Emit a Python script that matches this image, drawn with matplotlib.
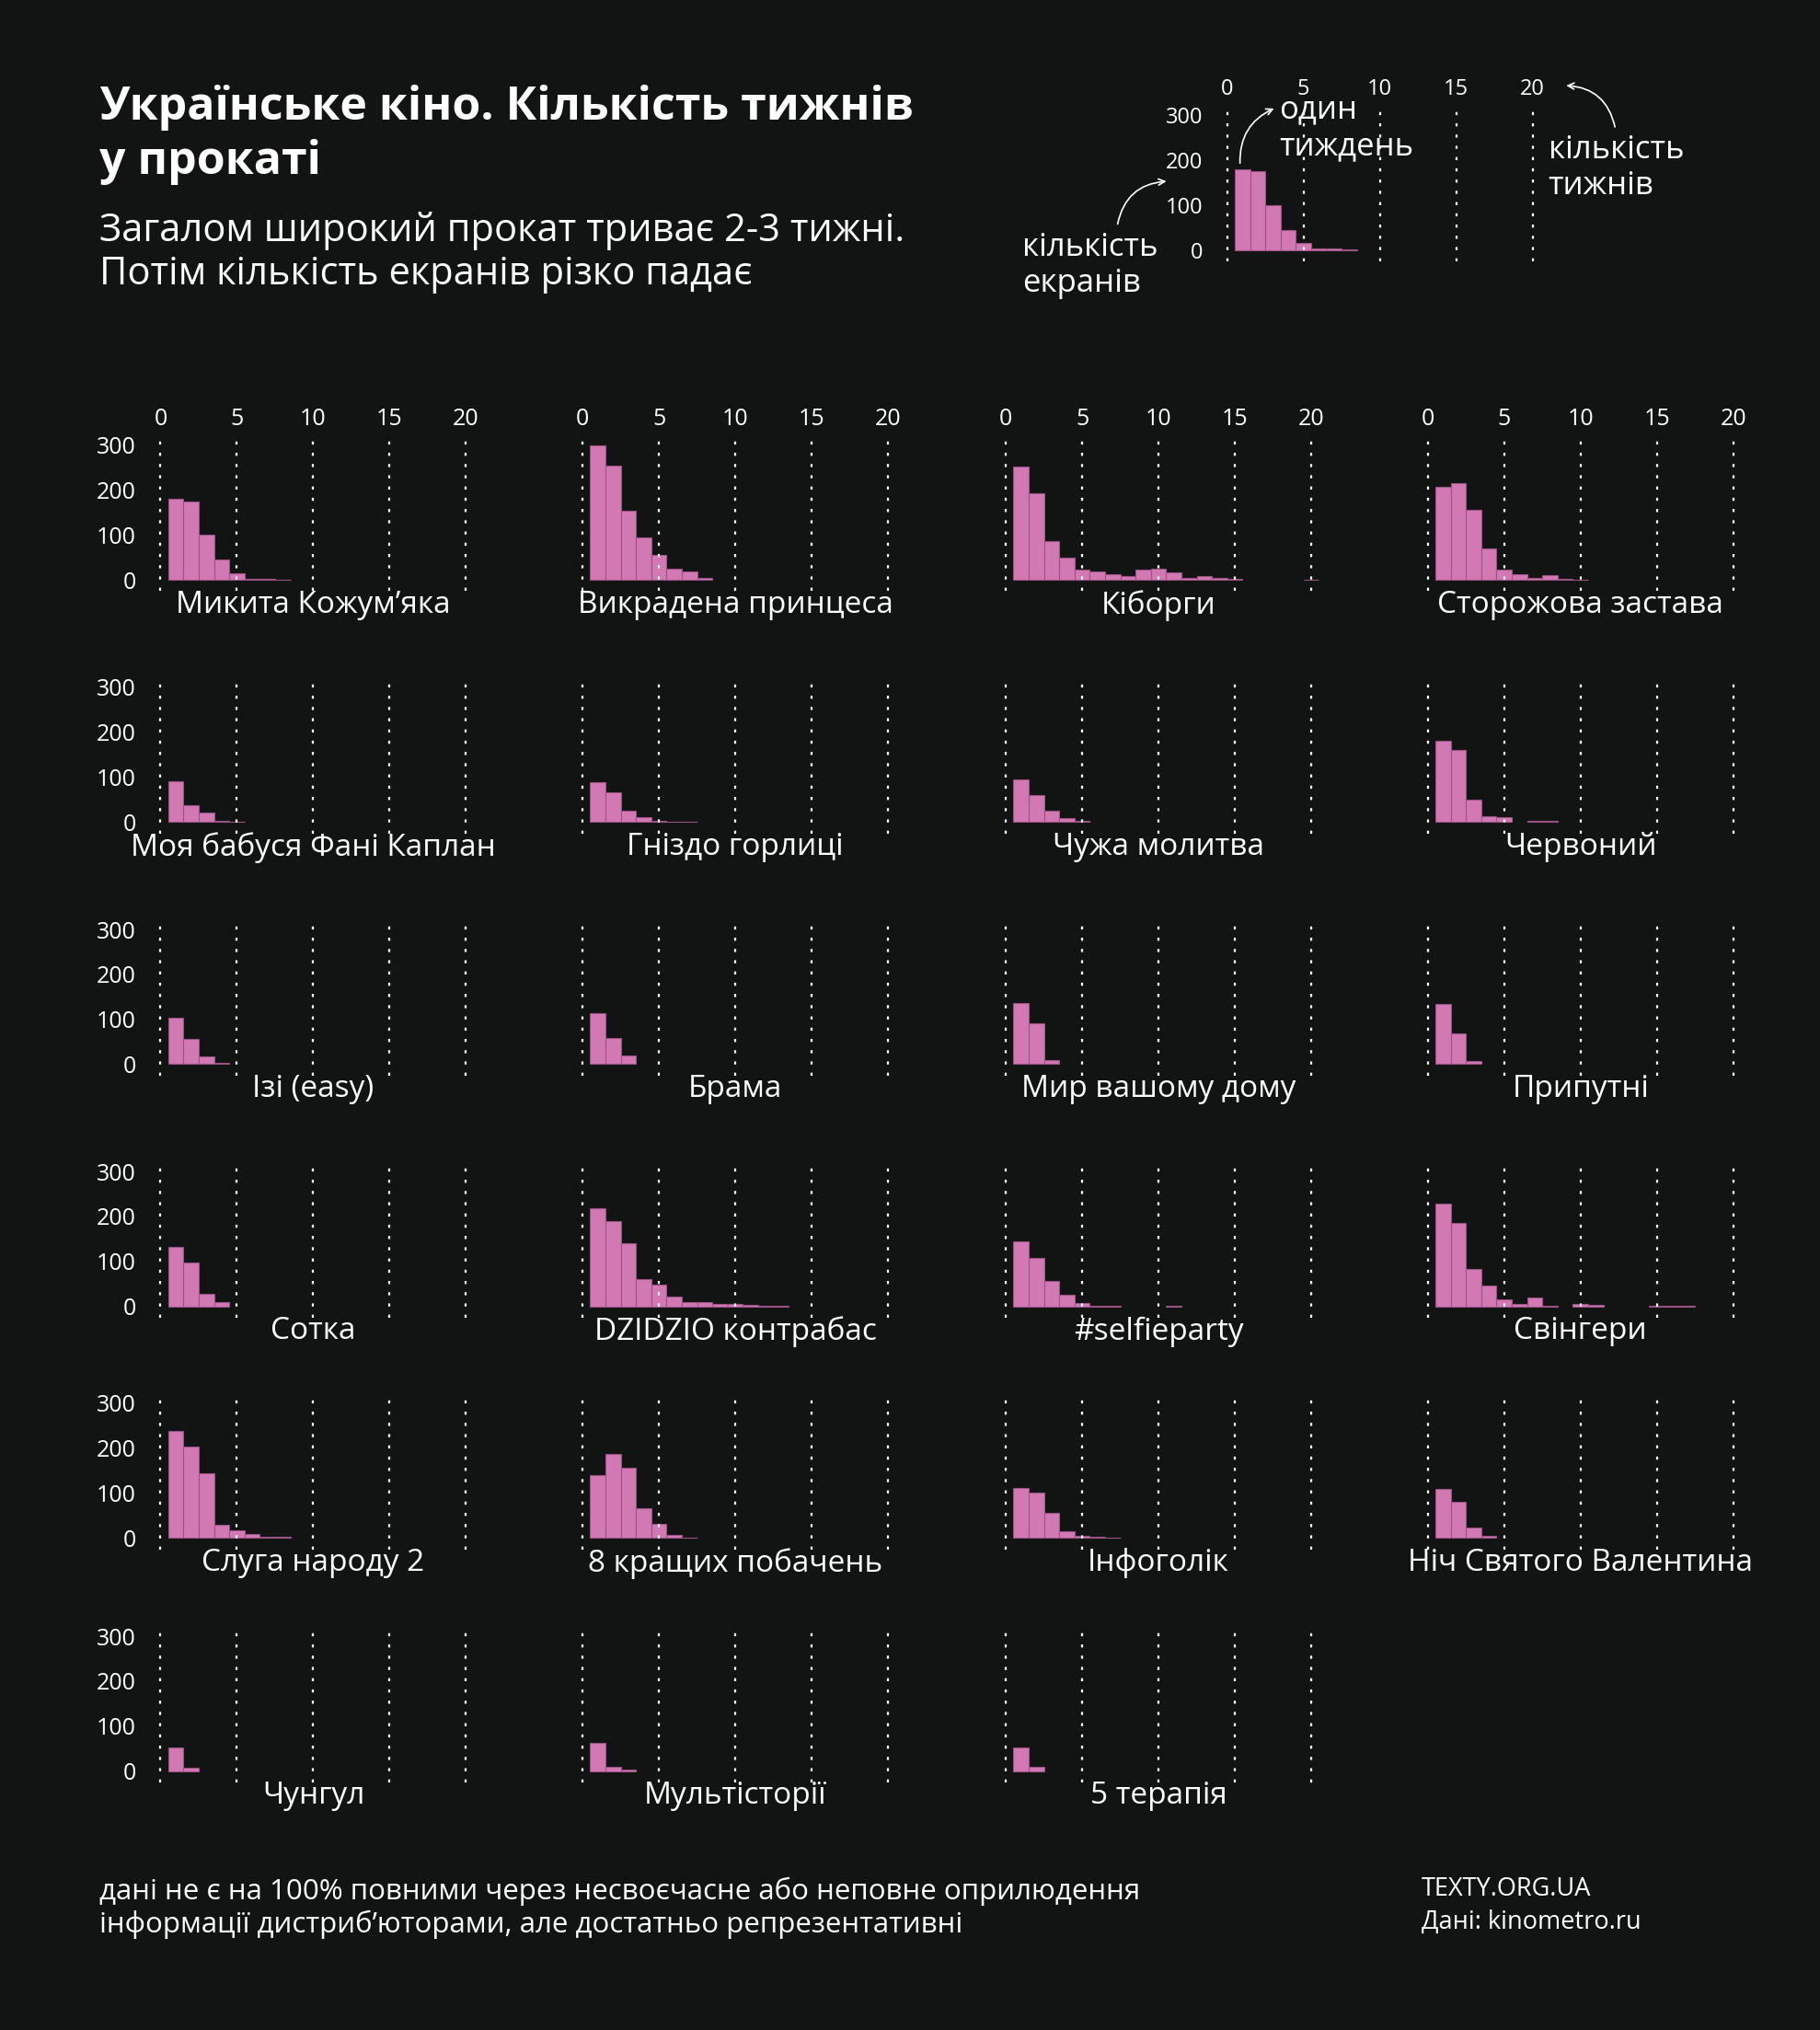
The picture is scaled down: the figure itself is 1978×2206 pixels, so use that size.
import numpy as np
import matplotlib.pyplot as plt

plt.rcParams['font.family'] = ['Open Sans', 'DejaVu Sans']

BG = '#111412'
PINK = '#d279b4'
EDGE = '#9a5284'

films = ['Микита Кожум’яка', 'Викрадена принцеса', 'Кіборги', 'Сторожова застава',
         'Моя бабуся Фані Каплан', 'Гніздо горлиці', 'Чужа молитва', 'Червоний',
         'Ізі (easy)', 'Брама', 'Мир вашому дому', 'Припутні',
         'Сотка', 'DZIDZIO контрабас', '#selfieparty', 'Свінгери',
         'Слуга народу 2', '8 кращих побачень', 'Інфоголік', 'Ніч Святого Валентина',
         'Чунгул', 'Мультісторії', '5 терапія']

# screens per week (week 1, 2, ...)
screens = [
    [180, 175, 100, 45, 15, 3, 3, 1],
    [300, 255, 155, 95, 55, 25, 18, 4],
    [253, 193, 87, 50, 23, 20, 12, 8, 23, 25, 17, 5, 8, 5, 3, 0, 0, 0, 0, 1],
    [208, 215, 157, 71, 24, 12, 5, 10, 3, 1],
    [90, 38, 21, 2, 1],
    [89, 67, 26, 11, 3, 1, 1],
    [96, 60, 25, 9, 2],
    [181, 161, 49, 13, 12, 0, 2, 2],
    [104, 57, 18, 2],
    [113, 59, 19],
    [136, 91, 10],
    [134, 68, 8],
    [133, 97, 28, 10],
    [219, 190, 141, 61, 48, 21, 10, 9, 6, 6, 3, 2, 1],
    [144, 108, 56, 25, 7, 2, 1, 0, 0, 0, 1],
    [228, 186, 84, 47, 16, 5, 19, 1, 0, 6, 3, 0, 0, 0, 1, 1, 1],
    [238, 204, 144, 30, 17, 10, 2, 2],
    [141, 188, 156, 67, 31, 7, 1],
    [111, 101, 56, 15, 5, 3, 1],
    [109, 80, 23, 5],
    [52, 8],
    [63, 10, 4],
    [52, 10],
]
legend_screens = [180, 175, 100, 45, 15, 3, 3, 1]

xticks = [0, 5, 10, 15, 20]
yticks = [0, 100, 200, 300]

W, H = 1406.0, 1568.0  # layout coordinates of the reference
fig = plt.figure(figsize=(19.78, 22.06), dpi=100, facecolor=BG)

XU, YU = 11.8, 0.347   # px per week, px per screen
XL, XR, YB, YT = -0.6, 20.6, -25, 315


def make_axes(x0, y0, top_labels, left_labels, fs=18):
    left = x0 + XL * XU
    width = (XR - XL) * XU
    bottom = y0 - YB * YU
    height = (YT - YB) * YU
    ax = fig.add_axes([left / W, 1 - bottom / H, width / W, height / H])
    ax.set_facecolor('none')
    ax.set_xlim(XL, XR)
    ax.set_ylim(YB, YT)
    for s in ax.spines.values():
        s.set_visible(False)
    for t in xticks:
        ax.plot([t, t], [YB, YT], ls=(0, (1.5, 4)), color='white', lw=1.6)
    ax.set_xticks(xticks)
    ax.set_yticks(yticks)
    ax.tick_params(length=0, colors='white', labelsize=fs,
                   top=False, bottom=False, labeltop=top_labels, labelbottom=False,
                   labelleft=left_labels, pad=12)
    ax.xaxis.set_tick_params(pad=6)
    return ax


def draw(ax, vals):
    vals = np.array(vals)
    weeks = np.arange(1, len(vals) + 1)
    keep = vals > 0
    ax.bar(weeks[keep], vals[keep], width=1.0, color=PINK, edgecolor=EDGE, linewidth=0.8)


col_x = [124, 450, 777, 1103]
row_y = [448, 635, 822, 1009, 1188, 1368]

for i, (name, vals) in enumerate(zip(films, screens)):
    r, c = divmod(i, 4)
    ax = make_axes(col_x[c], row_y[r], r == 0, c == 0)
    draw(ax, vals)
    ax.text(10, -22, name, ha='center', va='top', color='white', fontsize=24)

# legend chart
lax = make_axes(948, 193, True, True, fs=17)
draw(lax, legend_screens)

fig.text(77 / W, 1 - 104 / H, 'Українське кіно. Кількість тижнів\nу прокаті', color='white',
         fontsize=36, fontweight='bold', va='center', ha='left', linespacing=1.25)
fig.text(77 / W, 1 - 195 / H, 'Загалом широкий прокат триває 2-3 тижні.\nПотім кількість екранів різко падає',
         color='white', fontsize=30, va='center', ha='left', linespacing=1.15)

fig.text(790 / W, 1 - 205 / H, 'кількість\nекранів', color='white', fontsize=25,
         va='center', ha='left', linespacing=1.2)
fig.text(988 / W, 1 - 99 / H, 'один\nтиждень', color='white', fontsize=25,
         va='center', ha='left', linespacing=1.2)
fig.text(1196 / W, 1 - 130 / H, 'кількість\nтижнів', color='white', fontsize=25,
         va='center', ha='left', linespacing=1.2)

arrow = dict(arrowstyle='->', color='white', lw=1.2)
fig.add_artist(plt.matplotlib.patches.FancyArrowPatch(
    (863 / W, 1 - 175 / H), (903 / W, 1 - 140 / H), transform=fig.transFigure,
    connectionstyle='arc3,rad=-0.4', **arrow, mutation_scale=12))
fig.add_artist(plt.matplotlib.patches.FancyArrowPatch(
    (958 / W, 1 - 128 / H), (986 / W, 1 - 83 / H), transform=fig.transFigure,
    connectionstyle='arc3,rad=-0.35', **arrow, mutation_scale=12))
fig.add_artist(plt.matplotlib.patches.FancyArrowPatch(
    (1248 / W, 1 - 100 / H), (1208 / W, 1 - 66 / H), transform=fig.transFigure,
    connectionstyle='arc3,rad=0.4', **arrow, mutation_scale=12))

fig.text(77 / W, 1 - 1474 / H, 'дані не є на 100% повними через несвоєчасне або неповне оприлюдення\n'
         'інформації дистриб’юторами, але достатньо репрезентативні',
         color='white', fontsize=22.5, va='center', ha='left', linespacing=1.2)
fig.text(1098 / W, 1 - 1472 / H, 'TEXTY.ORG.UA\nДані: kinometro.ru', color='white',
         fontsize=19.5, va='center', ha='left', linespacing=1.4)

fig.savefig('out.png', dpi=100, facecolor=BG)
